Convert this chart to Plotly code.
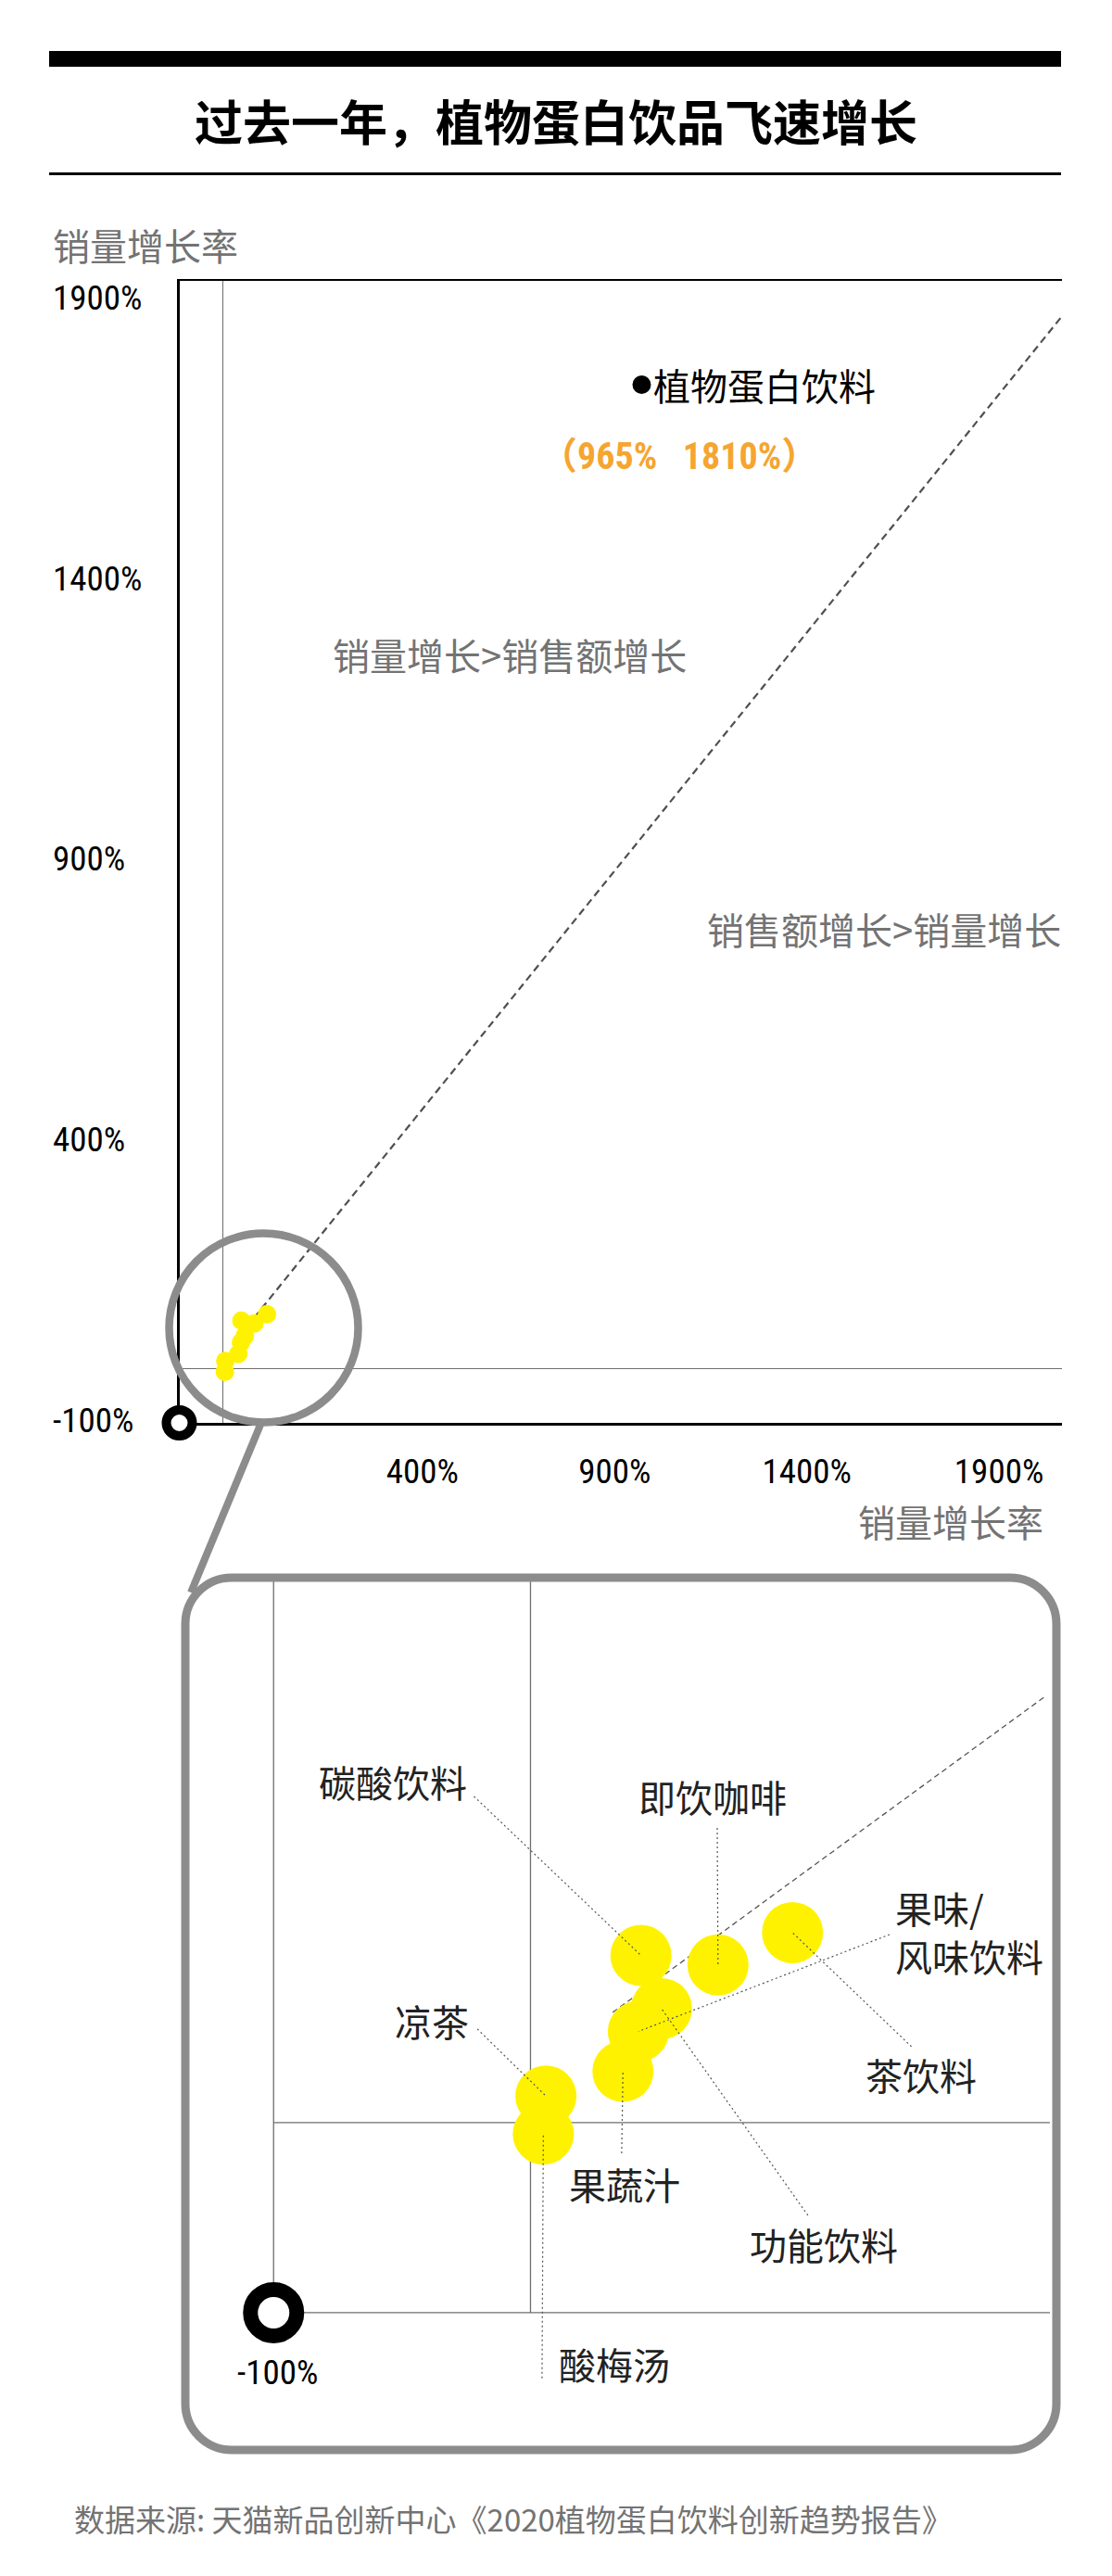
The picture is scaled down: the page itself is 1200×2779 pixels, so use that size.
import plotly.graph_objects as go

# ---------------- data ----------------
title_text = "过去一年，植物蛋白饮品飞速增长"
source_text = "数据来源: 天猫新品创新中心《2020植物蛋白饮料创新趋势报告》"
y_axis_title = "销量增长率"
x_axis_title = "销量增长率"
quadrant_upper = "销量增长>销售额增长"
quadrant_lower = "销售额增长>销量增长"

categories = ["碳酸饮料", "即饮咖啡", "茶饮料", "果味/风味饮料", "功能饮料", "果蔬汁", "凉茶", "酸梅汤"]
x_growth = [43, 73, 102, 42, 51, 36, 6, 5]
y_growth = [88, 83, 100, 48, 60, 27, 14, -6]

highlight_name = "植物蛋白饮料"
highlight_x = 965
highlight_y = 1810

x_tick_vals = [400, 900, 1400, 1900]
y_tick_vals = [-100, 400, 900, 1400, 1900]
origin_val = -100

main_diag_x = [72, 1933]
main_diag_y = [93, 1936]
inset_diag_x = [32, 200]
inset_diag_y = [58, 224]

# ---------------- label layout for the inset (positions, not data) ----------------
inset_labels = {
    "碳酸饮料": dict(text="碳酸饮料", at=(-53.6, 179.5), xanchor="center", lead=(-22.0, 171.7)),
    "即饮咖啡": dict(text="即饮咖啡", at=(70.9, 171.7), xanchor="center", lead=(72.7, 155.1)),
    "茶饮料": dict(text="茶饮料", at=(152.0, 25.4), xanchor="center", lead=(148.3, 40.0)),
    "果味/风味饮料": dict(text="果味/<br>风味饮料", at=(141.2, 100.7), xanchor="left", lead=(139.8, 99.0)),
    "功能饮料": dict(text="功能饮料", at=(114.2, -63.9), xanchor="center", lead=(108.0, -48.8)),
    "果蔬汁": dict(text="果蔬汁", at=(36.8, -32.2), xanchor="center", lead=(35.5, -16.1)),
    "凉茶": dict(text="凉茶", at=(-38.4, 53.7), xanchor="center", lead=(-20.7, 49.3)),
    "酸梅汤": dict(text="酸梅汤", at=(32.5, -126.8), xanchor="center", lead=(4.5, -134.6)),
}

# ---------------- page geometry ----------------
W, H, OFF = 1184, 2763, 8


def px(x):
    return (x - OFF) / W


def py(y):
    return 1 - (y - OFF) / H


CJK = "Noto Sans CJK SC, sans-serif"
NUM = "Roboto Condensed, Liberation Sans Narrow, DejaVu Sans Condensed, Roboto, Noto Sans CJK SC, sans-serif"
YELLOW = "#FFF200"
GRAY_FRAME = "#8c8c8c"
GRAY_TEXT = "#737373"

fig = go.Figure()

# ---- main chart ----
fig.add_trace(go.Scatter(x=main_diag_x, y=main_diag_y, mode="lines",
                         line=dict(color="#505050", width=2.2, dash="8px,5px"),
                         xaxis="x", yaxis="y", hoverinfo="skip", showlegend=False))
fig.add_trace(go.Scatter(x=x_growth, y=y_growth, mode="markers",
                         marker=dict(color=YELLOW, size=20, line=dict(width=0)),
                         xaxis="x", yaxis="y", hoverinfo="skip", showlegend=False))
fig.add_trace(go.Scatter(x=[highlight_x], y=[highlight_y], mode="markers",
                         marker=dict(color="black", size=20),
                         xaxis="x", yaxis="y", hoverinfo="skip", showlegend=False, cliponaxis=False))
fig.add_trace(go.Scatter(x=[origin_val], y=[origin_val], mode="markers",
                         marker=dict(color="white", size=28, line=dict(color="black", width=10)),
                         xaxis="x", yaxis="y", hoverinfo="skip", showlegend=False, cliponaxis=False))

# ---- inset chart ----
fig.add_trace(go.Scatter(x=inset_diag_x, y=inset_diag_y, mode="lines",
                         line=dict(color="#555555", width=1.3, dash="6px,4px"),
                         xaxis="x2", yaxis="y2", hoverinfo="skip", showlegend=False))
fig.add_trace(go.Scatter(x=x_growth, y=y_growth, mode="markers",
                         marker=dict(color=YELLOW, size=66, line=dict(width=0)),
                         xaxis="x2", yaxis="y2", hoverinfo="skip", showlegend=False, cliponaxis=False))
lx, ly = [], []
for name, vx, vy in zip(categories, x_growth, y_growth):
    s = inset_labels[name]["lead"]
    lx += [s[0], vx, None]
    ly += [s[1], vy, None]
fig.add_trace(go.Scatter(x=lx, y=ly, mode="lines",
                         line=dict(color="#555555", width=1.2, dash="2px,3px"),
                         xaxis="x2", yaxis="y2", hoverinfo="skip", showlegend=False))
fig.add_trace(go.Scatter(x=[origin_val], y=[origin_val], mode="markers",
                         marker=dict(color="white", size=50, line=dict(color="black", width=16)),
                         xaxis="x2", yaxis="y2", hoverinfo="skip", showlegend=False, cliponaxis=False))

# ---- tick-label axes (decorative scale used by the original infographic) ----
fig.add_trace(go.Scatter(x=[None], y=[None], xaxis="x3", yaxis="y3", mode="markers",
                         hoverinfo="skip", showlegend=False))

no_axis = dict(showgrid=False, zeroline=False, showline=False, ticks="", fixedrange=True)

fig.update_layout(
    width=W, height=H, autosize=False,
    margin=dict(l=0, r=0, t=0, b=0, pad=0),
    paper_bgcolor="white", plot_bgcolor="rgba(0,0,0,0)",
    hovermode=False, showlegend=False,
    font=dict(family=CJK, color="black"),
    xaxis=dict(domain=[px(193.5), px(1146)], range=[-100, 1933], anchor="y",
               showgrid=False, showticklabels=False, ticks="",
               showline=True, mirror=True, linecolor="black", linewidth=2.5,
               zeroline=True, zerolinecolor="#6e6e6e", zerolinewidth=1.5,
               layer="below traces", fixedrange=True),
    yaxis=dict(domain=[py(1535), py(303)], range=[-100, 2001], anchor="x",
               showgrid=False, showticklabels=False, ticks="",
               showline=True, mirror=False, linecolor="black", linewidth=2.5,
               zeroline=True, zerolinecolor="#6e6e6e", zerolinewidth=1.5,
               layer="below traces", fixedrange=True),
    xaxis2=dict(domain=[px(280), px(1133)], range=[-105.5, 202.2], anchor="y2",
                visible=False, fixedrange=True),
    yaxis2=dict(domain=[py(2580), py(1702)], range=[-141.5, 286.8], anchor="x2",
                visible=False, fixedrange=True),
    xaxis3=dict(domain=[px(150), px(1190)], range=[-337.5, 2169.8], anchor="free",
                position=py(1562), tickvals=x_tick_vals,
                ticktext=[f"{v}%" for v in x_tick_vals],
                tickfont=dict(family=NUM, size=37, color="black"), **no_axis),
    yaxis3=dict(domain=[py(1600), py(250)], range=[-212.3, 2017.3], anchor="free",
                position=px(53), side="left", ticklabelposition="inside",
                tickvals=y_tick_vals, ticktext=[f"{v}%" for v in y_tick_vals],
                tickfont=dict(family=NUM, size=37, color="black"), **no_axis),
)

# ---- shapes ----
shapes = []
# header bar and rule
shapes.append(dict(type="rect", xref="paper", yref="paper",
                   x0=px(53), x1=px(1145), y0=py(72), y1=py(55),
                   fillcolor="black", line=dict(width=0)))
shapes.append(dict(type="line", xref="paper", yref="paper",
                   x0=px(53), x1=px(1145), y0=py(187.5), y1=py(187.5),
                   line=dict(color="black", width=3)))
# inset reference lines
for (x0, y0, x1, y1) in [(-100, -100, -100, 285), (-100, -100, 202.2, -100),
                         (0, -100, 0, 285), (-100, 0, 202.2, 0)]:
    shapes.append(dict(type="line", xref="x2", yref="y2", x0=x0, y0=y0, x1=x1, y1=y1,
                       line=dict(color="#6e6e6e", width=1.3), layer="below"))
# magnifier
shapes.append(dict(type="circle", xref="paper", yref="paper",
                   x0=px(182.5), x1=px(386.5), y0=py(1534.5), y1=py(1330.5),
                   line=dict(color=GRAY_FRAME, width=8.5), fillcolor="rgba(0,0,0,0)"))
shapes.append(dict(type="line", xref="paper", yref="paper",
                   x0=px(281), y0=py(1537), x1=px(206), y1=py(1718),
                   line=dict(color=GRAY_FRAME, width=8)))


def rounded_rect(L, T, R, B, r):
    k = 0.5523 * r

    def p(x, y):
        return f"{px(x):.6f},{py(y):.6f}"
    return (f"M{p(L + r, T)} L{p(R - r, T)} C{p(R - r + k, T)} {p(R, T + r - k)} {p(R, T + r)} "
            f"L{p(R, B - r)} C{p(R, B - r + k)} {p(R - r + k, B)} {p(R - r, B)} "
            f"L{p(L + r, B)} C{p(L + r - k, B)} {p(L, B - r + k)} {p(L, B - r)} "
            f"L{p(L, T + r)} C{p(L, T + r - k)} {p(L + r - k, T)} {p(L + r, T)} Z")


shapes.append(dict(type="path", xref="paper", yref="paper",
                   path=rounded_rect(200, 1702, 1140, 2643, 50),
                   line=dict(color=GRAY_FRAME, width=9), fillcolor="rgba(0,0,0,0)"))
fig.update_layout(shapes=shapes)

# ---- annotations ----
ann = []


def paper_text(text, x, y, size, color, xanchor="center", family=CJK, weight=None):
    f = dict(family=family, size=size, color=color)
    if weight:
        f["weight"] = weight
    ann.append(dict(text=text, xref="paper", yref="paper", x=px(x), y=py(y),
                    xanchor=xanchor, yanchor="middle", showarrow=False, font=f))


paper_text(title_text, 600, 129, 52, "black", weight=700)
paper_text(y_axis_title, 55, 263.5, 40, GRAY_TEXT, xanchor="left")
paper_text(x_axis_title, 1128, 1641, 40, GRAY_TEXT, xanchor="right")
paper_text(quadrant_upper, 550, 706, 40, GRAY_TEXT)
paper_text(quadrant_lower, 1147, 1002, 40, GRAY_TEXT, xanchor="right")
paper_text(source_text, 78, 2717, 33, GRAY_TEXT, xanchor="left")

ann.append(dict(text=highlight_name, xref="x", yref="y", x=highlight_x, y=highlight_y,
                xanchor="left", yanchor="middle", xshift=11, showarrow=False,
                font=dict(family=CJK, size=40, color="black")))
ann.append(dict(text=f"（{highlight_x}%\u00a0\u00a0\u00a0{highlight_y}%）", xref="x", yref="y",
                x=highlight_x, y=highlight_y, xanchor="center", yanchor="middle",
                xshift=41, yshift=-77, showarrow=False,
                font=dict(family=NUM, size=40, color="#F5A530", weight=700)))

for name in categories:
    d = inset_labels[name]
    ann.append(dict(text=d["text"], xref="x2", yref="y2", x=d["at"][0], y=d["at"][1],
                    xanchor=d["xanchor"], yanchor="middle", align="left", showarrow=False,
                    font=dict(family=CJK, size=40, color="#222222")))
ann.append(dict(text=f"{origin_val}%", xref="x2", yref="y2", x=origin_val, y=origin_val,
                xanchor="center", yanchor="middle", xshift=4, yshift=-65, showarrow=False,
                font=dict(family=NUM, size=37, color="black")))
fig.update_layout(annotations=ann)

fig.write_html("out.html", config={"displayModeBar": False, "staticPlot": True})
